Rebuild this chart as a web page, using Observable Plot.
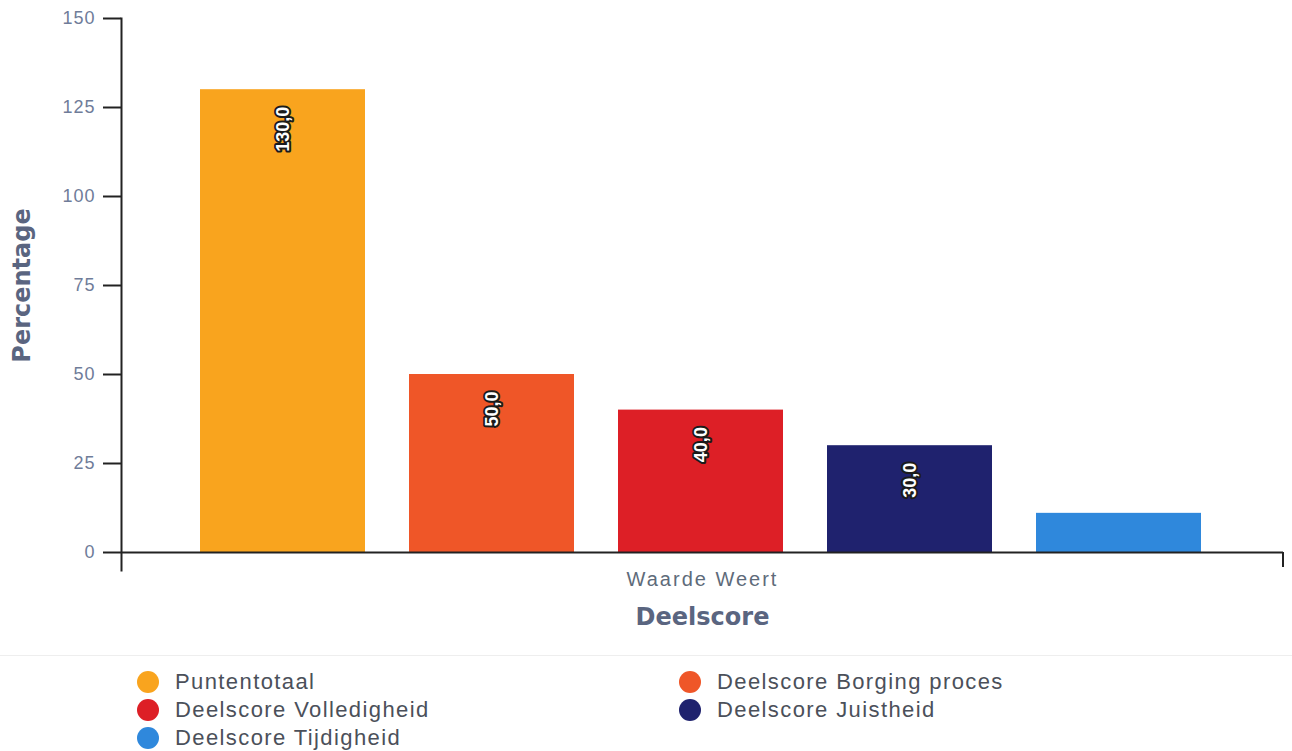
<!DOCTYPE html>
<html>
<head>
<meta charset="utf-8">
<script src="https://cdn.jsdelivr.net/npm/d3@7"></script>
<script src="https://cdn.jsdelivr.net/npm/@observablehq/plot@0.6"></script>
<style>
  html, body { margin: 0; padding: 0; background: #fff; }
  #chart svg { display: block; }
  #legend {
    border-top: 1px solid #eeeeee;
    padding: 12px 0 0 137px;
    display: grid;
    grid-template-columns: 542px auto;
    grid-auto-rows: 28px;
    font-family: "Liberation Sans", Arial, sans-serif;
    font-size: 22px;
    letter-spacing: 1.4px;
    color: #4b505a;
  }
  .item { display: flex; align-items: center; white-space: nowrap; }
  .dot { width: 22px; height: 22px; border-radius: 50%; margin-right: 16px; flex: none; }
</style>
</head>
<body>
<div id="chart"></div>
<div id="legend"></div>
<script>
const category = "Waarde Weert";
const series = ["Puntentotaal", "Deelscore Borging proces", "Deelscore Volledigheid", "Deelscore Juistheid", "Deelscore Tijdigheid"];
const values = [130, 50, 40, 30, 11];
const showLabel = [true, true, true, true, false];
const colors = ["#f9a41e", "#ef5628", "#dd1f26", "#1f226e", "#2f88dc"];
const yTicks = [0, 25, 50, 75, 100, 125, 150];
const yTitle = "Percentage";
const xTitle = "Deelscore";

const data = series.map((s, i) => ({series: s, value: values[i], label: showLabel[i]}));
const fmt = v => v.toFixed(1).replace(".", ",");

const W = 1292, H = 655;
const mLeft = 121, mRight = 9, mTop = 18, mBottom = 85;

const chart = Plot.plot({
  width: W,
  height: H,
  marginLeft: mLeft,
  marginRight: mRight,
  marginTop: mTop,
  marginBottom: mBottom,
  style: {fontFamily: "'Liberation Sans', Arial, sans-serif", background: "#fff"},
  x: {domain: series, range: [178, 1224], paddingInner: 0.21, paddingOuter: 0.105, axis: null},
  y: {domain: [0, 150], range: [552, 18], axis: null},
  color: {domain: series, range: colors},
  marks: [
    Plot.barY(data, {x: "series", y: "value", fill: "series"}),
    Plot.text(data.filter(d => d.label), {
      x: "series", y: "value", text: d => fmt(d.value),
      rotate: -90, textAnchor: "end", dy: 17,
      fill: "#ffffff", stroke: "#1b1b1b", strokeWidth: 4, paintOrder: "stroke",
      fontSize: 18, fontWeight: "bold"
    }),
    Plot.axisY({
      ticks: yTicks, tickSize: 18, tickPadding: 8, label: null,
      stroke: "#222", strokeWidth: 2, fill: "#6f7c99", fontSize: 18
    }),
    Plot.frame({anchor: "left", stroke: "#222", strokeWidth: 2}),
    Plot.ruleY([0], {stroke: "#222", strokeWidth: 2}),
    Plot.text([category], {
      frameAnchor: "bottom", dy: 9, lineAnchor: "middle",
      fill: "#5e6b7a", fontSize: 20
    }),
    Plot.text([xTitle], {
      frameAnchor: "bottom", dy: 47, lineAnchor: "middle",
      fill: "#5a6580", fontSize: 24, fontWeight: "bold",
      fontFamily: "'DejaVu Sans', sans-serif"
    }),
    Plot.text([yTitle], {
      frameAnchor: "left", rotate: -90, dx: -99, dy: -9, lineAnchor: "middle", textAnchor: "middle",
      fill: "#5a6580", fontSize: 24, fontWeight: "bold",
      fontFamily: "'DejaVu Sans', sans-serif"
    })
  ]
});

d3.select(chart).selectAll("[aria-label='y-axis tick label'] text").attr("letter-spacing", "1px");
d3.select(chart).selectAll("text").filter(function() { return this.textContent === category; }).attr("letter-spacing", "2px");

// right-hand category tick at end of x axis
const y0 = chart.scale("y").apply(0);
d3.select(chart).append("line")
  .attr("x1", W - mRight).attr("x2", W - mRight)
  .attr("y1", y0).attr("y2", y0 + 15)
  .attr("stroke", "#222").attr("stroke-width", 2);

document.getElementById("chart").appendChild(chart);

const legend = d3.select("#legend");
series.forEach((s, i) => {
  const it = legend.append("div").attr("class", "item");
  it.append("span").attr("class", "dot").style("background", colors[i]);
  it.append("span").text(s);
});
</script>
</body>
</html>
